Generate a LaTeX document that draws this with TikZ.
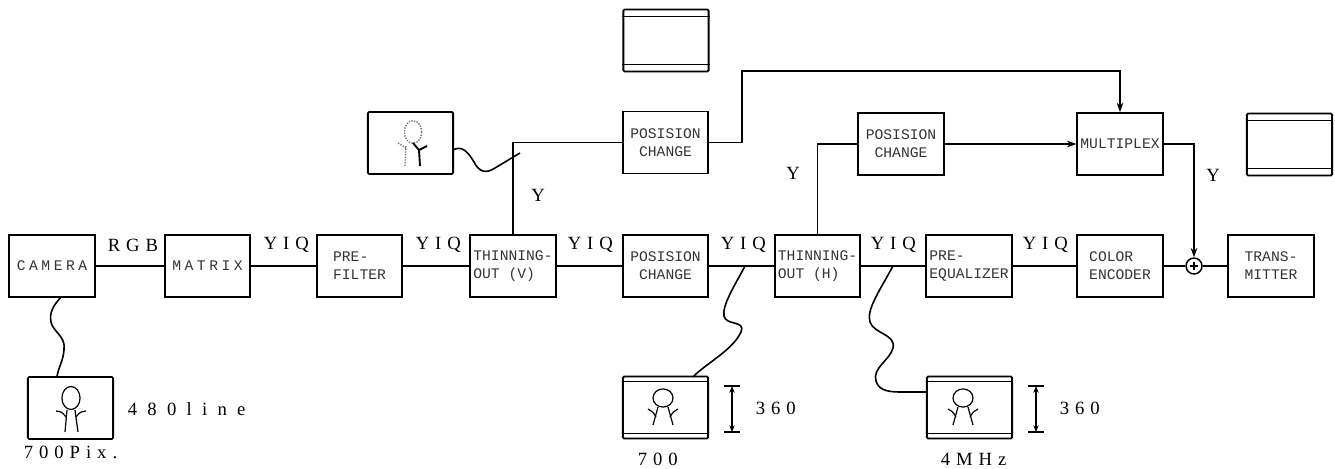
\documentclass[tikz,border=0pt]{standalone}
\usepackage{fontspec}
\setmainfont{Liberation Serif}
\newfontfamily\boxfont{Liberation Mono}
\newfontfamily\wideboxfont[LetterSpace=24]{Liberation Mono}
\newfontfamily\lblfont[LetterSpace=32]{Liberation Serif}
\newfontfamily\widelblfont[LetterSpace=55]{Liberation Serif}
\usetikzlibrary{arrows.meta,calc}

% two bars across the top and bottom of a monitor frame
\newcommand\tvbars[2]{%
  \draw[line width=1.1pt] ([yshift=-#2]#1.north west) -- ([yshift=-#2]#1.north east)
        ([yshift=#2]#1.south west) -- ([yshift=#2]#1.south east);}

\tikzset{
  % small stick figure with raised arms
  person/.pic={
    \draw[line width=0.9pt] (0,0) ellipse [x radius=7.5pt, y radius=6.8pt];
    \draw[line width=0.9pt] (-5,9) -- (-10,27) (5,9) -- (10,27);
    \draw[line width=0.9pt] (-7,19) .. controls (-10,14) .. (-15,11);
    \draw[line width=0.9pt] (7,19) .. controls (10,14) .. (15,11);
  },
  % taller figure on the camera monitor
  personcam/.pic={
    \draw[line width=0.9pt] (0,0) ellipse [x radius=6.8pt, y radius=8.6pt];
    \draw[line width=0.9pt] (-4,12) -- (-6,34) (4,12) -- (7,34);
    \draw[line width=0.9pt] (-5,19) .. controls (-9,14) .. (-15,13);
    \draw[line width=0.9pt] (5,19) .. controls (9,14) .. (15,13);
  }
}

\begin{document}
\begin{tikzpicture}[x=0.75pt,y=-0.75pt,
  line width=1.2pt,
  blk/.style={draw, line width=1.4pt, minimum width=64pt, minimum height=46.5pt,
    inner sep=1pt, align=left, font=\boxfont\fontsize{11}{13.5}\selectfont, text=black!80},
  scr/.style={draw, line width=1.4pt, rounded corners=1pt, minimum width=64pt,
    minimum height=46.5pt, inner sep=0pt},
  lbl/.style={font=\lblfont\fontsize{14}{16}\selectfont, inner sep=0pt, anchor=west},
  wlbl/.style={font=\widelblfont\fontsize{14}{16}\selectfont, inner sep=0pt, anchor=west},
  ylbl/.style={font=\fontsize{14}{16}\selectfont, inner sep=0pt},
  arr/.style={-{Stealth[length=7pt,width=5pt]}},
  dim/.style={{Stealth[length=5pt,width=4pt]}-{Stealth[length=5pt,width=4pt]}, line width=1pt},
]
\useasboundingbox (0,0) rectangle (1335,468);

% main signal chain
\node[blk, font=\wideboxfont\fontsize{11}{13.5}\selectfont] (cam) at (52,266) {CAMERA};
\node[blk, font=\wideboxfont\fontsize{11}{13.5}\selectfont] (mat) at (207.5,266) {MATRIX};
\node[blk] (pf)  at (359.5,266) {PRE-\\FILTER};
\node[blk] (tv)  at (513,266)   {THINNING-\\OUT (V)};
\node[blk, align=center] (pc1) at (665.5,266) {POSISION\\CHANGE};
\node[blk] (th)  at (817.5,266) {THINNING-\\OUT (H)};
\node[blk] (peq) at (969,266)   {PRE-\\EQUALIZER};
\node[blk] (ce)  at (1120,266)  {COLOR\\ENCODER};
\node[circle, draw, line width=1.1pt, minimum size=12pt, inner sep=0pt] (sum) at (1194,266) {};
\draw[line width=0.9pt] ($(sum.center)+(-4,0)$) -- ($(sum.center)+(4,0)$)
                        ($(sum.center)+(0,-4)$) -- ($(sum.center)+(0,4)$);
\node[blk] (tx)  at (1271,266)  {TRANS-\\MITTER};

% upper branch
\node[blk, align=center] (pcA) at (665.5,142.5) {POSISION\\CHANGE};
\node[blk, align=center] (pcB) at (901,144) {POSISION\\CHANGE};
\node[blk, inner sep=0pt] (mux) at (1120,144) {MULTIPLEX};

% monitor frames
\node[scr] (scrTop) at (666,40.5) {};
\tvbars{scrTop}{6pt}
\node[scr] (scrR) at (1289.5,144.5) {};
\tvbars{scrR}{6pt}
\node[scr] (img) at (410.5,143) {};
\node[scr] (scrCam) at (70.5,408) {};
\node[scr] (scrM) at (665.5,407.5) {};
\tvbars{scrM}{4.5pt}
\node[scr] (scrH) at (969.5,407.5) {};
\tvbars{scrH}{4.5pt}

% figures on the monitors
\pic at (71,398) {personcam};
\pic at (663,398) {person};
\pic at (963,398) {person};
% half-drawn figure: dotted outline, right arm solid
\draw[densely dotted, line width=1pt, black!55] (413,132) ellipse [x radius=6.5pt, y radius=8.5pt];
\draw[densely dotted, line width=1pt, black!55] (406,146) -- (405,166) (406,148) -- (398,143);
\draw[line width=1.4pt] (413,143) -- (419,150) -- (427,146) (419,150) -- (420,166);

% chain connectors
\draw (cam) -- (mat) -- (pf) -- (tv) -- (pc1) -- (th) -- (peq) -- (ce) -- (sum) -- (tx);

% branch connectors
\coordinate (j1) at (742,71);
\draw (tv.north) |- (pcA.west);
\draw[arr] (pcA.east) -| (j1) -| (mux.north);
\draw (th.north) |- (pcB.west);
\draw[arr] (pcB.east) -- (mux.west);
\draw[arr] (mux.east) -| (sum.north);

% wavy leads to monitors
\coordinate (cw0) at (61,297);
\coordinate (cw1) at (57,377);
\draw (cw0) .. controls (54,305) and (49,312) .. (51,322)
            .. controls (53,332) and (66,336) .. (64,350)
            .. controls (63,362) and (58,368) .. (cw1);
\coordinate (mw0) at (745,266);
\coordinate (mw1) at (693,377);
\draw (mw0) .. controls (735,285) and (722,305) .. (724,316)
            .. controls (726,326) and (746,320) .. (741,332)
            .. controls (733,350) and (705,364) .. (mw1);
\coordinate (hw0) at (893,266);
\coordinate (hw1) at (scrH.west|-0,392);
\draw (hw0) .. controls (880,290) and (866,310) .. (870,322)
            .. controls (874,334) and (896,334) .. (893,348)
            .. controls (890,360) and (872,368) .. (876,381)
            .. controls (879,392) and (892,392) .. (903,392) -- (hw1);
\coordinate (iw0) at (453,150);
\coordinate (iw1) at (520,153);
\draw (iw0) .. controls (462,145) and (468,152) .. (474,162)
            .. controls (479,172) and (486,174) .. (495,168) -- (iw1);

% dimension marks
\coordinate (dA) at (732,386); \coordinate (dB) at (732,432);
\draw[dim] (dA) -- (dB);
\draw[line width=1pt] ($(dA)+(-8,0)$) -- ($(dA)+(8,0)$) ($(dB)+(-8,0)$) -- ($(dB)+(8,0)$);
\coordinate (dC) at (1036,386); \coordinate (dD) at (1036,432);
\draw[dim] (dC) -- (dD);
\draw[line width=1pt] ($(dC)+(-8,0)$) -- ($(dC)+(8,0)$) ($(dD)+(-8,0)$) -- ($(dD)+(8,0)$);

% signal labels
\node[lbl] at (107,245) {RGB};
\node[lbl] at (263,245) {YIQ};
\node[lbl] at (415,245) {YIQ};
\node[lbl] at (567,245) {YIQ};
\node[lbl] at (720,245) {YIQ};
\node[lbl] at (870,245) {YIQ};
\node[lbl] at (1022,245) {YIQ};
\node[ylbl] at (538,195) {Y};
\node[ylbl] at (793,173) {Y};
\node[ylbl] at (1213,175) {Y};

% monitor captions
\node[wlbl] at (127,409) {480line};
\node[lbl] at (23,452) {700Pix.};
\node[lbl] at (755,408) {360};
\node[lbl] at (1059,408) {360};
\node[lbl] at (637,459) {700};
\node[lbl] at (940,459) {4MHz};
\end{tikzpicture}
\end{document}
